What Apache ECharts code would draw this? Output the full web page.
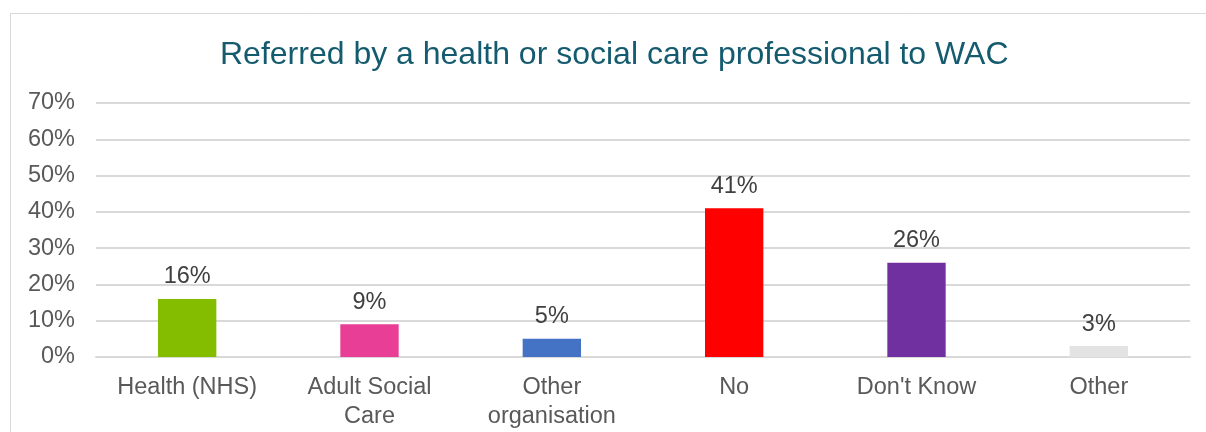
<!DOCTYPE html>
<html>
<head>
<meta charset="utf-8">
<script src="https://cdn.jsdelivr.net/npm/echarts@6/dist/echarts.min.js"></script>
<style>
  html, body { margin: 0; padding: 0; background: #ffffff; }
  #chart { width: 1206px; height: 432px; }
</style>
</head>
<body>
<div id="chart"></div>
<script>
// Referral sources (percent of respondents)
const categories = ['Health (NHS)', 'Adult Social\nCare', 'Other\norganisation', 'No', "Don't Know", 'Other'];
const values = [16, 9, 5, 41, 26, 3];
const barColors = ['#84bd00', '#e83e96', '#4472c4', '#ff0000', '#7030a0', '#e3e3e3'];
const yTicks = { min: 0, max: 70, interval: 10 };

const chart = echarts.init(document.getElementById('chart'), null, { renderer: 'canvas' });

const font = '"Liberation Sans", Arial, sans-serif';

chart.setOption({
  backgroundColor: '#ffffff',
  animation: false,
  title: {
    text: 'Referred by a health or social care professional to WAC',
    left: 215,
    top: 34,
    textStyle: { color: '#155b6f', fontSize: 32, fontWeight: 'normal', fontFamily: font }
  },
  graphic: [{
    type: 'rect',
    shape: { x: 10.5, y: 13.5, width: 1400, height: 600 },
    style: { fill: 'none', stroke: '#d9d9d9', lineWidth: 1 },
    silent: true
  }],
  grid: { left: 96, right: 16, top: 103, bottom: 75 },
  xAxis: {
    type: 'category',
    data: categories,
    axisLine: { show: true, lineStyle: { color: '#d9d9d9', width: 2 } },
    axisTick: { show: false },
    axisLabel: {
      color: '#595959', fontSize: 23.5, fontFamily: font,
      margin: 16, lineHeight: 29, interval: 0
    }
  },
  yAxis: {
    type: 'value',
    min: yTicks.min, max: yTicks.max, interval: yTicks.interval,
    axisLine: { show: false },
    axisTick: { show: false },
    splitLine: { lineStyle: { color: '#d9d9d9', width: 2 } },
    axisLabel: {
      color: '#595959', fontSize: 23.5, fontFamily: font, margin: 21,
      formatter: v => v + '%'
    }
  },
  series: [{
    type: 'bar',
    data: values.map((v, i) => ({ value: v, itemStyle: { color: barColors[i] } })),
    barWidth: '32%',
    label: {
      show: true, position: 'top', distance: 10,
      color: '#404040', fontSize: 23.5, fontFamily: font,
      formatter: p => p.value + '%'
    }
  }]
});
</script>
</body>
</html>
